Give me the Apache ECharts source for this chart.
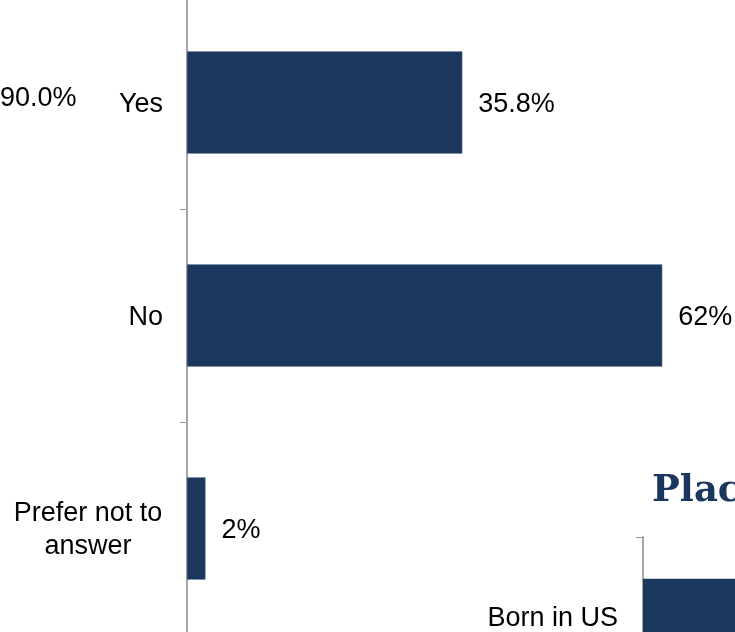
<!DOCTYPE html>
<html>
<head>
<meta charset="utf-8">
<script src="https://cdn.jsdelivr.net/npm/echarts@6/dist/echarts.min.js"></script>
<style>
html,body{margin:0;padding:0;background:#fff;}
#chart{width:735px;height:632px;}
</style>
</head>
<body>
<div id="chart"></div>
<script>
// Main chart data
var categories = ['Yes', 'No', 'Prefer not to\nanswer'];
var values = [35.8, 61.8, 2.4];
var valueLabels = ['35.8%', '62%', '2%'];

// Second (partially visible) chart
var categories2 = ['Born in US', 'Born outside US'];
var values2 = [85, 15];

// Fragments of neighbouring chart texts
var sideText = '90.0%';
var title2 = 'Place of Birth';

var NAVY = '#1B375D';
var AXIS = '#A6A6A6';
var FONT = 'Liberation Sans, Arial, sans-serif';
var FS = 27;

var chart = echarts.init(document.getElementById('chart'));

function catFormatter(v) {
  if (v.indexOf('\n') >= 0) {
    var parts = v.split('\n');
    return '{c|' + parts[0] + '}\n{c|' + parts[1] + '}';
  }
  return v;
}

chart.setOption({
  animation: false,
  backgroundColor: '#fff',
  grid: [
    { left: 187, top: -4, width: 769, height: 639, containLabel: false, outerBoundsMode: 'none' },
    { left: 643, top: 537, width: 300, height: 328, containLabel: false, outerBoundsMode: 'none' }
  ],
  xAxis: [
    { gridIndex: 0, type: 'value', min: 0, max: 100, show: false },
    { gridIndex: 1, type: 'value', min: 0, max: 100, show: false }
  ],
  yAxis: [
    {
      gridIndex: 0, type: 'category', data: categories, inverse: true,
      axisLine: { show: true, lineStyle: { color: AXIS, width: 2 } },
      axisTick: { show: true, length: 7, lineStyle: { color: '#999', width: 1 } },
      axisLabel: {
        margin: 24, color: '#000', fontSize: FS, fontFamily: FONT, lineHeight: 33,
        padding: [4, 0, 0, 0],
        formatter: catFormatter,
        rich: { c: { width: 150, align: 'center', fontSize: FS, fontFamily: FONT, color: '#000', lineHeight: 33 } }
      },
      splitLine: { show: false }
    },
    {
      gridIndex: 1, type: 'category', data: categories2, inverse: true,
      axisLine: { show: true, lineStyle: { color: AXIS, width: 2 } },
      axisTick: { show: true, length: 7, lineStyle: { color: '#999', width: 1 } },
      axisLabel: { margin: 25, color: '#000', fontSize: FS, fontFamily: FONT, padding: [8, 0, 0, 0] },
      splitLine: { show: false }
    }
  ],
  series: [
    {
      type: 'bar', xAxisIndex: 0, yAxisIndex: 0, data: values,
      barCategoryGap: '52%',
      itemStyle: { color: NAVY, borderColor: '#3A5378', borderWidth: 0.6 },
      label: {
        show: true, position: 'right', distance: 16, color: '#000',
        fontSize: FS, fontFamily: FONT, offset: [0, 2],
        formatter: function (p) { return valueLabels[p.dataIndex]; }
      }
    },
    {
      type: 'bar', xAxisIndex: 1, yAxisIndex: 1, data: values2,
      barCategoryGap: '51%',
      itemStyle: { color: NAVY },
      label: { show: false }
    }
  ],
  graphic: [
    {
      type: 'text', left: 0, top: 85,
      style: { text: sideText, fontSize: FS, fontFamily: FONT, fill: '#000' }
    },
    {
      type: 'text', left: 652, top: 473,
      style: { text: title2, fontSize: 37, fontWeight: 'bold', fontFamily: 'DejaVu Serif, serif', fill: NAVY }
    }
  ]
});
</script>
</body>
</html>
